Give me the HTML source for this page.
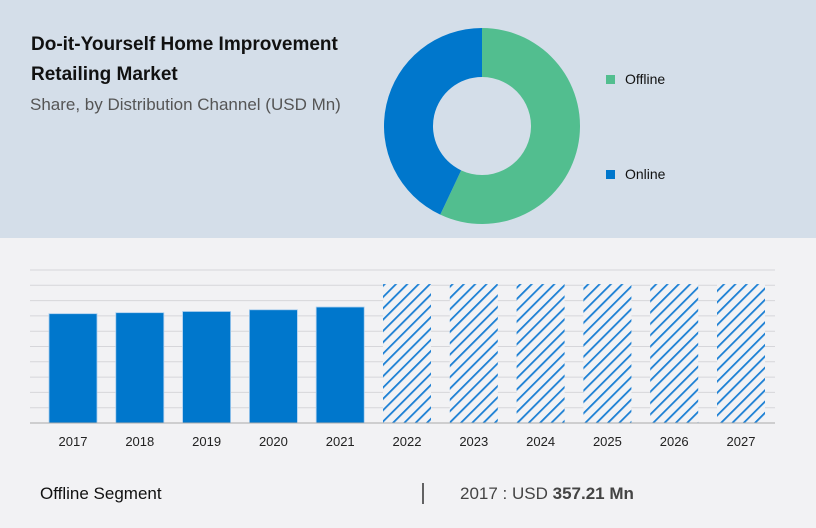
<!DOCTYPE html>
<html><head><meta charset="utf-8"><style>
html,body{margin:0;padding:0;width:816px;height:528px;overflow:hidden;background:#f2f2f4;font-family:"Liberation Sans",sans-serif}
svg{display:block}
</style></head><body>
<svg width="816" height="528" xmlns="http://www.w3.org/2000/svg">
<defs>
<pattern id="hatch" patternUnits="userSpaceOnUse" width="8" height="8" patternTransform="rotate(45)">
<rect width="8" height="8" fill="#f2f2f4"/>
<rect x="0" y="0" width="1.8" height="8" fill="#1a7fd4"/>
</pattern>
</defs>
<rect x="0" y="0" width="816" height="238" fill="#d4dee9"/>
<text x="31" y="50" font-size="19" font-weight="bold" fill="#111">Do-it-Yourself Home Improvement</text>
<text x="31" y="80" font-size="19" font-weight="bold" fill="#111">Retailing Market</text>
<text x="30" y="110" font-size="17" fill="#555">Share, by Distribution Channel (USD Mn)</text>
<g id="donut"></g>
<rect x="606" y="75" width="9" height="9" fill="#52be8f"/>
<text x="625" y="84" font-size="14" fill="#111">Offline</text>
<rect x="606" y="170" width="9" height="9" fill="#0077cc"/>
<text x="625" y="179" font-size="14" fill="#111">Online</text>
<g id="bars"></g>
<text x="40" y="499" font-size="17" fill="#111">Offline Segment</text>
<line x1="423" y1="483" x2="423" y2="504" stroke="#333" stroke-width="1.5"/>
<text x="460" y="499" font-size="17" fill="#444">2017 : USD <tspan font-weight="bold">357.21 Mn</tspan></text>
</svg>
<script>
const shareLabels=["Offline","Online"];
const shareValues=[57,43];
const shareColors=["#52be8f","#0077cc"];
const years=["2017","2018","2019","2020","2021","2022","2023","2024","2025","2026","2027"];
const values=[357.21,360.5,364.4,370,379,454,454,454,454,454,454];
const forecastFrom=5;
const yMax=500, gridCount=10;
const NS="http://www.w3.org/2000/svg";
function mk(t,a){const e=document.createElementNS(NS,t);for(const k in a)e.setAttribute(k,a[k]);return e;}
// donut
const dg=document.getElementById('donut');
const cx=482,cy=126,R=98,r=49;
const tot=shareValues.reduce((a,b)=>a+b,0);
let ang=0;
shareValues.forEach((v,i)=>{
  const a0=ang,a1=ang+v/tot*2*Math.PI;ang=a1;
  const p=(rad,a)=>[cx+rad*Math.sin(a),cy-rad*Math.cos(a)];
  const [x0,y0]=p(R,a0),[x1,y1]=p(R,a1),[x2,y2]=p(r,a1),[x3,y3]=p(r,a0);
  const lg=(a1-a0)>Math.PI?1:0;
  const path=mk('path',{d:`M${x0},${y0}A${R},${R} 0 ${lg} 1 ${x1},${y1}L${x2},${y2}A${r},${r} 0 ${lg} 0 ${x3},${y3}Z`,fill:shareColors[i]});
  
  
  dg.appendChild(path);
});
// bars
const bg=document.getElementById('bars');
const x0=39.6,x1=774.4,yBase=423,yTop=270;
const band=(x1-x0)/years.length, bw=48;
const yScale=v=>yBase-(v/yMax)*(yBase-yTop);
for(let i=1;i<=gridCount;i++){
  const y=yScale(yMax*i/gridCount);
  const l=mk('line',{x1:30,x2:775,y1:y,y2:y,stroke:'#d6d6da','stroke-width':1});
  
  
  bg.appendChild(l);
}
years.forEach((yr,i)=>{
  const cxb=x0+band*(i+0.5);
  const y=yScale(values[i]);
  const rect=mk('rect',{x:cxb-bw/2,y:y,width:bw,height:yBase-y,fill:i>=forecastFrom?'url(#hatch)':'#0077cc'});
  if(i<forecastFrom){rect.setAttribute('stroke','#a9cdee');rect.setAttribute('stroke-width','0.8');}
  
  
  bg.appendChild(rect);
  const t=mk('text',{x:cxb,y:446,'font-size':13,'text-anchor':'middle',fill:'#222'});
  t.textContent=yr;
  
  
  bg.appendChild(t);
});
const axis=mk('line',{x1:30,x2:775,y1:yBase,y2:yBase,stroke:'#aaa','stroke-width':1});


bg.appendChild(axis);
</script>
</body></html>
